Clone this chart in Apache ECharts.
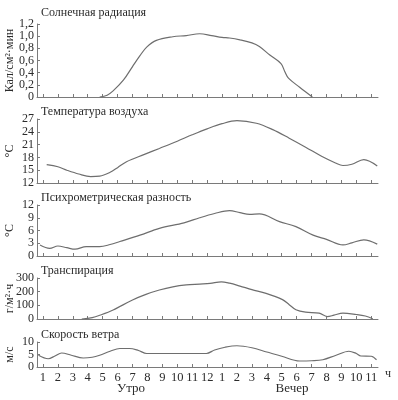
<!DOCTYPE html>
<html>
<head>
<meta charset="utf-8">
<script src="https://cdn.jsdelivr.net/npm/echarts@6/dist/echarts.min.js"></script>
<style>
html, body { margin: 0; padding: 0; background: #fff; }
#chart { width: 398px; height: 400px; }
</style>
</head>
<body>
<div id="chart"></div>
<script>
// часы по оси X: 1..12 утро, 1..11 вечер (сквозная шкала 1..23)
var hourTicks = [1,2,3,4,5,6,7,8,9,10,11,12,13,14,15,16,17,18,19,20,21,22,23];

// деления осей Y
var solarTicks = [0, 0.2, 0.4, 0.6, 0.8, 1.0, 1.2];
var tempTicks = [12, 15, 18, 21, 24, 27];
var psyTicks = [0, 3, 6, 9, 12];
var trTicks = [0, 100, 200, 300];
var windTicks = [0, 5, 10];

// Солнечная радиация, кал/см2*мин
var solarHours = [4.8, 5.3, 5.7, 6.4, 7.0, 7.5, 7.95, 8.6, 9.7, 10.6, 11.5, 12.3, 13.0, 13.5, 14.2, 15.0, 15.5, 16.2, 16.95, 17.2, 17.45, 18.2, 19.05];
var solarValues = [0, 0.03, 0.10, 0.28, 0.50, 0.68, 0.82, 0.93, 0.99, 1.01, 1.04, 1.01, 0.98, 0.97, 0.94, 0.89, 0.83, 0.69, 0.55, 0.42, 0.31, 0.16, 0];

// Температура воздуха, °C
var tempHours = [1.25, 2.0, 2.6, 3.4, 4.2, 4.8, 5.5, 6.0, 6.6, 7.8, 8.8, 10.0, 11.0, 12.0, 13.0, 14.0, 15.3, 16.4, 17.5, 18.6, 19.7, 20.6, 21.1, 21.7, 22.5, 23.4];
var tempValues = [16.3, 15.8, 15.0, 14.1, 13.5, 13.6, 14.5, 15.6, 17.0, 18.7, 20.1, 21.8, 23.3, 24.7, 25.9, 26.6, 26.0, 24.5, 22.5, 20.4, 18.2, 16.7, 16.1, 16.4, 17.5, 16.0];

// Психрометрическая разность, °C
var psyHours = [0.8, 1.45, 2.0, 2.6, 3.15, 3.9, 4.8, 5.5, 6.15, 7.5, 8.8, 10.45, 11.5, 12.5, 13.5, 14.2, 14.85, 15.5, 16.85, 17.95, 19.1, 20.0, 21.1, 21.7, 22.5, 23.4];
var psyValues = [2.6, 1.8, 2.35, 1.95, 1.6, 2.2, 2.2, 2.7, 3.4, 4.9, 6.5, 7.8, 9.0, 10.0, 10.7, 10.2, 9.8, 9.9, 8.1, 6.9, 4.9, 3.9, 2.6, 3.1, 3.8, 2.8];

// Транспирация, г/м2*ч
var trHours = [3.6, 4.3, 4.85, 5.7, 7.0, 7.9, 8.8, 9.7, 10.6, 11.5, 12.2, 12.95, 13.5, 14.2, 15.0, 15.95, 17.05, 17.5, 17.95, 18.6, 19.5, 20.05, 20.5, 21.1, 22.0, 22.6, 23.1];
var trValues = [0, 10, 29, 66, 139, 180, 212, 235, 249, 255, 260, 272, 262, 241, 215, 188, 142, 105, 68, 50, 43, 18, 28, 43, 33, 22, 2];

// Скорость ветра, м/с
var windHours = [0.7, 1.35, 1.8, 2.25, 2.9, 3.7, 4.3, 4.8, 5.5, 6.15, 6.8, 7.4, 7.95, 9.0, 10.0, 11.0, 11.95, 12.5, 13.2, 14.0, 15.0, 16.0, 17.0, 18.2, 19.0, 19.75, 20.6, 21.5, 22.0, 22.3, 23.0, 23.35];
var windValues = [4.7, 3.3, 4.4, 5.6, 4.7, 3.6, 3.9, 4.7, 6.3, 7.4, 7.4, 6.6, 5.4, 5.4, 5.4, 5.4, 5.4, 6.8, 7.9, 8.5, 7.7, 6.0, 4.3, 2.4, 2.5, 2.9, 4.6, 6.3, 5.4, 4.4, 4.3, 2.9];

var panelTitles = ['Солнечная радиация', 'Температура воздуха', 'Психрометрическая разность', 'Транспирация', 'Скорость ветра'];
var unitNames = ['Кал/см²·мин', '°C', '°C', 'г/м²·ч', 'м/с'];

function pairs(xs, ys) {
    return xs.map(function (x, i) { return [x, ys[i]]; });
}

var myChart = echarts.init(document.getElementById('chart'), null, {renderer: 'canvas'});

var serif = 'Liberation Serif';
var axisColor = '#7a7a7a';
var lineColor = '#6e6e6e';
var textColor = '#2b2b2b';

// панели: верх и высота сетки, шкала Y
var panels = [
    {top: 24,  height: 73, ticks: solarTicks, data: pairs(solarHours, solarValues)},
    {top: 119, height: 64, ticks: tempTicks,  data: pairs(tempHours, tempValues)},
    {top: 205, height: 51, ticks: psyTicks,   data: pairs(psyHours, psyValues)},
    {top: 278, height: 41, ticks: trTicks,    data: pairs(trHours, trValues)},
    {top: 342, height: 25, ticks: windTicks,  data: pairs(windHours, windValues)}
];

var grids = [], xAxes = [], yAxes = [], series = [], graphics = [];

panels.forEach(function (p, i) {
    var last = i === panels.length - 1;
    grids.push({left: 37, top: p.top, width: 341, height: p.height});
    xAxes.push({
        type: 'value', gridIndex: i, min: 0.6, max: 23.45,
        splitLine: {show: false},
        axisLine: {lineStyle: {color: axisColor, width: 1}},
        axisTick: {inside: true, length: 3, customValues: hourTicks, lineStyle: {color: axisColor}},
        axisLabel: {
            show: last, customValues: hourTicks, margin: 4, hideOverlap: false,
            fontFamily: serif, fontSize: 12.5, color: textColor,
            formatter: function (v) { return v > 12 ? String(v - 12) : String(v); }
        }
    });
    yAxes.push({
        type: 'value', gridIndex: i, min: p.ticks[0], max: p.ticks[p.ticks.length - 1],
        splitLine: {show: false},
        axisLine: {show: true, lineStyle: {color: axisColor, width: 1}},
        axisTick: {show: true, inside: true, length: 3, customValues: p.ticks, lineStyle: {color: axisColor}},
        axisLabel: {
            margin: 3, fontFamily: serif, fontSize: 12, color: textColor,
            customValues: p.ticks, hideOverlap: false,
            showMinLabel: true, showMaxLabel: true,
            formatter: function (v) {
                if (i === 0) return v === 0 ? '0' : v.toFixed(1).replace('.', ',');
                return String(v);
            }
        }
    });
    series.push({
        type: 'line', xAxisIndex: i, yAxisIndex: i,
        data: p.data, showSymbol: false, smooth: 0.35,
        lineStyle: {color: lineColor, width: 1.2},
        silent: true
    });
    // заголовок панели
    graphics.push({
        type: 'text', left: 41, top: p.top - (i === 0 ? 17 : 13),
        style: {text: panelTitles[i], font: '12px "' + serif + '"', fill: textColor}
    });
    // подпись единиц
    graphics.push({
        type: 'text', x: 10, y: p.top + p.height / 2, rotation: Math.PI / 2,
        style: {text: unitNames[i], font: '12px "' + serif + '"', fill: textColor,
            align: 'center', verticalAlign: 'middle'}
    });
});

graphics.push({type: 'text', x: 388, y: 374,
    style: {text: 'ч', font: '12px "' + serif + '"', fill: textColor, align: 'center', verticalAlign: 'middle'}});
graphics.push({type: 'text', x: 131, y: 389,
    style: {text: 'Утро', font: '13px "' + serif + '"', fill: textColor, align: 'center', verticalAlign: 'middle'}});
graphics.push({type: 'text', x: 292, y: 389,
    style: {text: 'Вечер', font: '13px "' + serif + '"', fill: textColor, align: 'center', verticalAlign: 'middle'}});

var option = {
    animation: false,
    backgroundColor: '#fff',
    grid: grids,
    xAxis: xAxes,
    yAxis: yAxes,
    series: series,
    graphic: graphics
};

myChart.setOption(option);
</script>
</body>
</html>
